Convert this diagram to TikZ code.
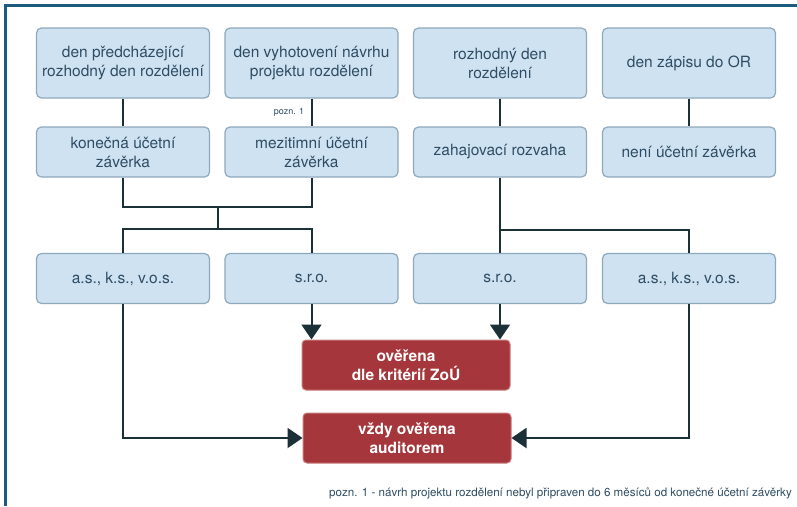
\documentclass[tikz,border=0pt]{standalone}
\usepackage{fontspec}
\setmainfont{TeX Gyre Heros}
\usepackage{xcolor}
\usetikzlibrary{arrows.meta}

\definecolor{frameblue}{HTML}{1D5B7D}
\definecolor{boxfill}{HTML}{CFE2F1}
\definecolor{boxline}{HTML}{8FA9BC}
\definecolor{boxtext}{HTML}{2E4C63}
\definecolor{redfill}{HTML}{A5363B}
\definecolor{redline}{HTML}{C97A7C}
\definecolor{linkcol}{HTML}{1C3038}

\tikzset{
  infobox/.style={draw=boxline, fill=boxfill, line width=1.2pt, rounded corners=5pt,
    text=boxtext, align=center, minimum width=173pt, inner sep=2pt,
    font=\fontsize{15.5}{19}\selectfont},
  resultbox/.style={draw=redline, fill=redfill, line width=1pt, rounded corners=4pt,
    text=white, align=center, minimum width=208pt, minimum height=50pt,
    font=\bfseries\fontsize{15.5}{19}\selectfont},
  link/.style={draw=linkcol, line width=2pt},
  flow/.style={link, -{Triangle[length=15pt,width=20pt]}}
}

\begin{document}
\begin{tikzpicture}[x=1pt,y=-1pt]
  \useasboundingbox (0,0) rectangle (797,506);
  \fill[white] (0,0) rectangle (797,506);
  \draw[frameblue, line width=3pt] (5,506) -- (5,5) -- (797,5);

  % dates
  \node[infobox, minimum height=70pt] (d1) at (123,63) {den předcházející\\rozhodný den rozdělení};
  \node[infobox, minimum height=70pt] (d2) at (311.5,63) {den vyhotovení návrhu\\projektu rozdělení};
  \node[infobox, minimum height=70pt] (d3) at (500,63) {rozhodný den\\rozdělení};
  \node[infobox, minimum height=70pt] (d4) at (689,63) {den zápisu do OR};

  % statements
  \node[infobox, minimum height=50pt] (s1) at (123,152) {konečná účetní\\závěrka};
  \node[infobox, minimum height=50pt] (s2) at (311.5,152) {mezitimní účetní\\závěrka};
  \node[infobox, minimum height=50pt] (s3) at (500,152) {zahajovací rozvaha};
  \node[infobox, minimum height=50pt] (s4) at (689,152) {není účetní závěrka};

  % company types
  \node[infobox, minimum height=50pt] (c1) at (123,278.5) {a.s., k.s., v.o.s.};
  \node[infobox, minimum height=50pt] (c2) at (311.5,278.5) {s.r.o.};
  \node[infobox, minimum height=50pt] (c3) at (500,278.5) {s.r.o.};
  \node[infobox, minimum height=50pt] (c4) at (689,278.5) {a.s., k.s., v.o.s.};

  % results
  \node[resultbox] (r1) at (406,365) {ověřena\\dle kritérií ZoÚ};
  \node[resultbox] (r2) at (407,438) {vždy ověřena\\auditorem};

  \node[text=boxtext, font=\fontsize{9}{10}\selectfont] (pn) at (289,112) {pozn. 1};
  \node[text=boxtext, font=\fontsize{11.6}{13}\selectfont, anchor=west, inner sep=0pt] (fn) at (329,493)
    {pozn. 1 - návrh projektu rozdělení nebyl připraven do 6 měsíců od konečné účetní závěrky};

  \foreach \i in {1,...,4}
    \draw[link] (d\i) -- (s\i);

  \draw[link] (s1.south) |- (218,207) -| (s2.south);
  \draw[link] (218,207) -- (218,229);
  \draw[link] (c1.north) |- (218,229) -| (c2.north);
  \draw[link] (s3.south) |- (c4.north |- 0,230) -- (c4.north);
  \draw[link] (s3.south) -- (c3.north);

  \draw[flow] (c2.south) -- (c2.south |- r1.north);
  \draw[flow] (c3.south) -- (c3.south |- r1.north);
  \draw[flow] (c1.south) |- (r2.west);
  \draw[flow] (c4.south) |- (r2.east);
\end{tikzpicture}
\end{document}
